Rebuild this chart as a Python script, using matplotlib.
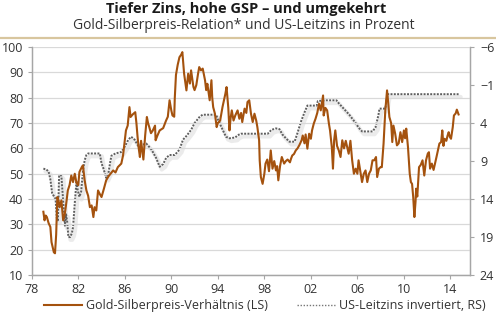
import matplotlib
matplotlib.use('Agg')
import matplotlib.pyplot as plt
from matplotlib.transforms import ScaledTranslation
from matplotlib.lines import Line2D

plt.rcParams['font.family'] = ['Open Sans', 'DejaVu Sans']

title = "Tiefer Zins, hohe GSP – und umgekehrt"
subtitle = "Gold-Silberpreis-Relation* und US-Leitzins in Prozent"
label_gsr = "Gold-Silberpreis-Verhältnis (LS)"
label_rate = "US-Leitzins invertiert, RS)"

x_ticks = [1978, 1982, 1986, 1990, 1994, 1998, 2002, 2006, 2010, 2014]
x_tick_labels = ['78', '82', '86', '90', '94', '98', '02', '06', '10', '14']
left_ticks = [10, 20, 30, 40, 50, 60, 70, 80, 90, 100]
right_ticks = [-6, -1, 4, 9, 14, 19, 24]

gsr_years = [
    1979.0, 1979.1, 1979.2, 1979.3, 1979.45, 1979.6, 1979.7, 1979.8, 1979.9, 1980.0,
    1980.1, 1980.2, 1980.3, 1980.4, 1980.55, 1980.7, 1980.85, 1981.0, 1981.1, 1981.25,
    1981.4, 1981.55, 1981.7, 1981.85, 1982.0, 1982.1, 1982.3, 1982.4, 1982.55, 1982.7,
    1982.85, 1983.0, 1983.15, 1983.3, 1983.4, 1983.55, 1983.7, 1983.85, 1984.0, 1984.2,
    1984.4, 1984.6, 1985.0, 1985.2, 1985.4, 1985.7, 1985.85, 1986.0, 1986.1, 1986.25,
    1986.4, 1986.5, 1986.7, 1986.9, 1987.0, 1987.1, 1987.2, 1987.3, 1987.4, 1987.6,
    1987.75, 1987.9, 1988.0, 1988.1, 1988.25, 1988.4, 1988.6, 1988.65, 1988.8, 1989.0,
    1989.3, 1989.55, 1989.7, 1989.85, 1990.0, 1990.1, 1990.25, 1990.3, 1990.4, 1990.55,
    1990.7, 1990.85, 1990.95, 1991.1, 1991.3, 1991.45, 1991.6, 1991.7, 1991.9, 1992.0,
    1992.15, 1992.3, 1992.4, 1992.55, 1992.7, 1992.9, 1993.0, 1993.1, 1993.3, 1993.45,
    1993.52, 1993.6, 1993.75, 1993.9, 1994.0, 1994.2, 1994.4, 1994.65, 1994.75, 1994.9,
    1995.0, 1995.1, 1995.2, 1995.35, 1995.5, 1995.7, 1995.85, 1996.0, 1996.1, 1996.2,
    1996.3, 1996.45, 1996.55, 1996.7, 1996.85, 1997.0, 1997.15, 1997.3, 1997.4, 1997.55,
    1997.6, 1997.7, 1997.85, 1998.0, 1998.1, 1998.25, 1998.4, 1998.55, 1998.7, 1998.85,
    1999.0, 1999.1, 1999.2, 1999.35, 1999.5, 1999.7, 1999.85, 2000.0, 2000.2, 2000.3,
    2000.4, 2000.55, 2000.7, 2000.85, 2001.0, 2001.2, 2001.3, 2001.45, 2001.55, 2001.7,
    2001.85, 2002.0, 2002.1, 2002.25, 2002.4, 2002.55, 2002.7, 2002.85, 2003.0, 2003.05,
    2003.1, 2003.25, 2003.4, 2003.55, 2003.65, 2003.8, 2003.9, 2004.0, 2004.1, 2004.25,
    2004.4, 2004.55, 2004.7, 2004.85, 2005.0, 2005.1, 2005.25, 2005.4, 2005.55, 2005.7,
    2005.85, 2006.0, 2006.1, 2006.25, 2006.4, 2006.55, 2006.7, 2006.85, 2007.0, 2007.15,
    2007.3, 2007.45, 2007.6, 2007.7, 2007.85, 2008.0, 2008.1, 2008.25, 2008.4, 2008.55,
    2008.65, 2008.75, 2008.9, 2009.0, 2009.1, 2009.25, 2009.4, 2009.55, 2009.7, 2009.85,
    2010.0, 2010.1, 2010.2, 2010.35, 2010.5, 2010.6, 2010.7, 2010.8, 2010.9, 2011.0,
    2011.05, 2011.15, 2011.3, 2011.45, 2011.6, 2011.75, 2011.9, 2012.05, 2012.15, 2012.25,
    2012.4, 2012.55, 2012.8, 2013.05, 2013.2, 2013.3, 2013.4, 2013.5, 2013.65, 2013.75,
    2013.85, 2013.95, 2014.05, 2014.2, 2014.3, 2014.45, 2014.55, 2014.7,
]
gsr_values = [
    35, 31.6, 33.5, 32.9, 30.5, 29, 23, 21, 19, 18.6,
    26, 40.8, 39.5, 36.8, 39.5, 31.6, 34.3, 39.5, 43.4, 45.5,
    49.3, 46.7, 50, 46.3, 45.5, 50.7, 52.6, 53.3, 47.4, 43.4,
    41.3, 36.8, 37.5, 32.9, 36.8, 35.5, 43.4, 42, 40.8, 44,
    47.4, 49, 51.3, 50.5, 52.6, 54, 57.2, 63, 67.1, 69,
    76.3, 72.4, 73.5, 74.3, 70, 64.5, 60, 56.6, 63, 55.6,
    65, 72.4, 70, 68.5, 66, 67, 69, 63.2, 65, 67.1,
    68, 71, 72.5, 79, 75, 73, 72.5, 80, 89, 93,
    96, 97, 98, 89.5, 82.9, 89.5, 85.6, 90.8, 84.3, 83,
    85, 89.5, 92.1, 90.8, 91.5, 86.9, 83, 85.5, 79, 86.9,
    80, 76.3, 73.7, 68.4, 70, 71, 76.3, 81.6, 84.2, 76,
    67.1, 72, 75, 71, 73, 75, 71.7, 74, 70.4, 73,
    75.7, 74, 78.3, 79, 73.7, 70.4, 73.7, 71, 68.4, 63.2,
    55.3, 48.7, 46, 50, 54, 55.6, 51, 59.2, 52, 55,
    51.3, 53, 47.4, 53, 56.6, 54, 55, 55.6, 54.5, 56,
    57.2, 57.8, 59.2, 60, 61.2, 63.2, 65.1, 62, 65.5, 59.9,
    65.8, 63.8, 67.1, 69.8, 71.7, 74, 77.6, 75, 79.6, 80.9,
    73, 76, 75, 69.8, 67, 60.5, 52, 63.2, 67.1, 61,
    59.2, 56.6, 63.2, 60, 63, 61, 57.9, 63, 55.3, 50,
    52, 50, 55.3, 51, 46.7, 50, 51.3, 46.7, 50, 51.3,
    55.3, 55.3, 56.6, 48.7, 52, 52.6, 52.6, 61.9, 75, 82.9,
    78, 72.4, 70, 62.5, 69, 65.8, 61.2, 62, 66.4, 62.5,
    67.1, 64, 67.8, 60.5, 50, 46.7, 46, 40.8, 32.9, 39,
    44.1, 41, 52.6, 53.5, 55.3, 49.3, 55.3, 57.9, 58.5, 52,
    54, 51.5, 56.6, 61.9, 62.5, 67.1, 61, 63.8, 63, 65,
    66.4, 64.5, 63.8, 68.4, 73, 73.8, 75.3, 73.4,
]

rate_years = [
    1979.0, 1979.25, 1979.45, 1979.6, 1979.75, 1979.9, 1980.05, 1980.15, 1980.25, 1980.35,
    1980.45, 1980.55, 1980.7, 1980.85, 1980.95, 1981.05, 1981.15, 1981.3, 1981.45, 1981.55,
    1981.7, 1981.85, 1981.95, 1982.1, 1982.25, 1982.4, 1982.55, 1982.7, 1982.85, 1983.85,
    1984.0, 1984.15, 1984.4, 1984.6, 1984.75, 1984.85, 1985.2, 1985.7, 1986.0, 1986.3,
    1986.55, 1986.85, 1987.15, 1987.4, 1987.85, 1988.3, 1988.7, 1989.0, 1989.3, 1989.55,
    1989.85, 1990.3, 1990.7, 1991.0, 1991.3, 1991.7, 1992.0, 1992.45, 1992.7, 1993.85,
    1994.0, 1994.3, 1994.7, 1995.0, 1995.5, 1995.7, 1996.0, 1998.3, 1998.6, 1999.0,
    1999.3, 1999.55, 1999.85, 2000.15, 2000.6, 2000.85, 2001.15, 2001.45, 2001.7, 2002.5,
    2002.6, 2003.3, 2004.2, 2004.4, 2004.7, 2005.0, 2005.3, 2005.6, 2005.9, 2006.1,
    2006.4, 2007.3, 2007.55, 2007.8, 2007.9, 2008.4, 2008.5, 2008.6, 2014.7,
]
rate_values = [
    10.0, 10.1, 10.4, 11.4, 13.2, 13.6, 14.0, 16.5, 16.8, 11.0,
    10.8, 11.0, 14.2, 17.5, 16.0, 17.0, 19.0, 19.0, 18.5, 17.7,
    14.5, 11.6, 12.8, 13.7, 13.0, 10.3, 8.9, 8.2, 8.0, 8.0,
    9.3, 9.9, 11.2, 10.5, 9.1, 8.3, 8.0, 7.8, 7.1, 6.2,
    5.8, 6.2, 7.0, 6.9, 6.7, 7.5, 8.6, 9.75, 9.4, 8.6,
    8.2, 8.2, 7.5, 6.2, 5.7, 4.9, 4.0, 3.15, 2.9, 2.9,
    3.5, 4.5, 5.8, 6.0, 5.9, 5.6, 5.4, 5.4, 4.9, 4.7,
    4.8, 5.5, 6.0, 6.45, 6.45, 5.3, 3.8, 2.6, 1.7, 1.7,
    1.1, 1.0, 1.0, 1.4, 1.9, 2.4, 2.9, 3.5, 4.1, 4.6,
    5.1, 5.1, 4.6, 3.0, 2.1, 2.1, 1.0, 0.2, 0.2,
]

BROWN = '#A4520E'
GRAY = '#5e5e5e'
AXIS = '#a6a6a6'
GRID = '#d9d9d9'

fig = plt.figure(figsize=(4.96, 3.18), dpi=100)
ax = fig.add_axes([0.064, 0.135, 0.884, 0.717])
ax2 = ax.twinx()

# soft shadow of the rate line
shadow_tr = ax2.transData + ScaledTranslation(1.5 / 72, -2.0 / 72, fig.dpi_scale_trans)
ax2.plot(rate_years, rate_values, color='#cfcfcf', lw=3.0, alpha=0.4,
         transform=shadow_tr, solid_capstyle='round', zorder=1)
ax2.plot(rate_years, rate_values, color=GRAY, lw=1.4, linestyle=(0, (1, 0.7)),
         zorder=2)

ax.plot(gsr_years, gsr_values, color=BROWN, lw=1.5, zorder=3)

ax.set_zorder(ax2.get_zorder() + 1)
ax.patch.set_visible(False)

ax.set_xlim(1978, 2015.7)
ax.set_ylim(10, 100)
ax2.set_ylim(24, -6)

ax.set_xticks(x_ticks)
ax.set_xticklabels(x_tick_labels)
ax.set_yticks(left_ticks)
ax2.set_yticks(right_ticks)

ax.grid(axis='y', color=GRID, lw=0.9)
ax.set_axisbelow(True)

for a in (ax, ax2):
    a.spines['top'].set_visible(False)
    for s in ('left', 'right', 'bottom'):
        a.spines[s].set_color(AXIS)
        a.spines[s].set_linewidth(0.9)
    a.tick_params(colors=AXIS, labelcolor='#333333', labelsize=9, length=3, width=0.8)
ax.tick_params(axis='x', pad=3)
ax.tick_params(axis='y', pad=3)
ax2.tick_params(axis='y', pad=4)

fig.text(0.497, 0.972, title, ha='center', va='center', fontsize=10.5,
         fontweight='bold', color='#1a1a1a')
fig.text(0.492, 0.921, subtitle, ha='center', va='center', fontsize=10,
         color='#333333')
fig.add_artist(Line2D([0, 1], [1 - 38 / 318] * 2, color='#d8c69e', lw=1.6,
                      transform=fig.transFigure))

handles = [Line2D([], [], color=BROWN, lw=1.5),
           Line2D([], [], color='#777777', lw=1.0, linestyle=(0, (1, 1.2)))]
fig.legend(handles, [label_gsr, label_rate], loc='center',
           bbox_to_anchor=(0.534, 0.038), ncol=2, frameon=False, fontsize=9,
           handlelength=3.0, handletextpad=0.3, columnspacing=2.4,
           labelcolor='#333333')

fig.savefig('out.png', dpi=100)
